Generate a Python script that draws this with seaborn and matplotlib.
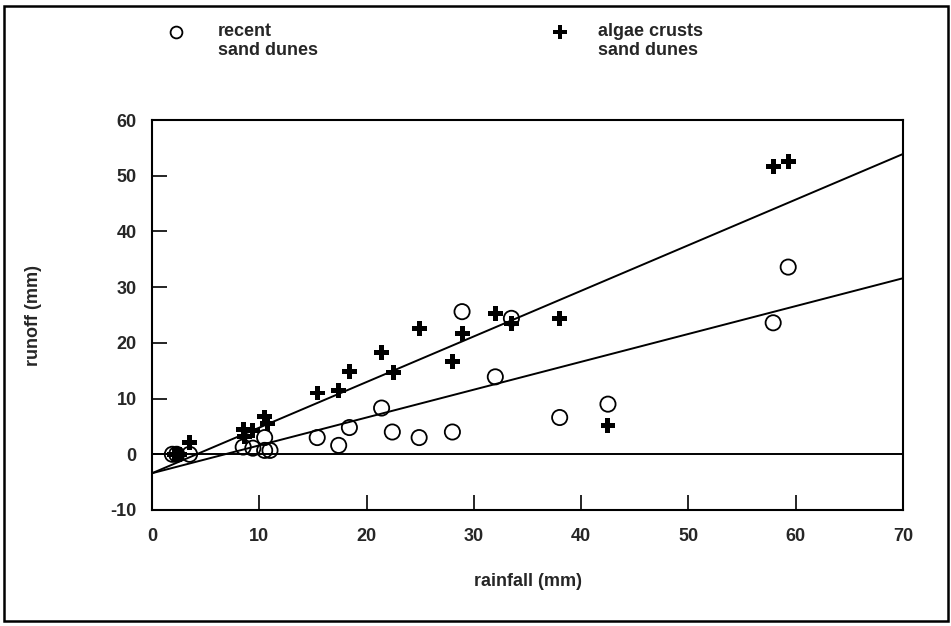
import matplotlib
matplotlib.use("Agg")
import matplotlib.pyplot as plt
from matplotlib.patches import Rectangle
from matplotlib.lines import Line2D
import seaborn as sns
import pandas as pd

# --- data ---------------------------------------------------------------
recent_x = [1.9, 2.3, 3.5, 8.5, 9.4, 10.5, 10.5, 11.0, 15.4, 17.4, 18.4, 21.4,
            22.4, 24.9, 28.0, 28.9, 32.0, 33.5, 38.0, 42.5, 57.9, 59.3]
recent_y = [0.0, 0.0, 0.0, 1.3, 1.1, 3.0, 0.7, 0.7, 3.0, 1.6, 4.8, 8.3,
            4.0, 3.0, 4.0, 25.6, 13.9, 24.4, 6.6, 9.0, 23.6, 33.6]

algae_x = [2.1, 2.6, 3.5, 8.5, 8.6, 9.4, 10.5, 10.8, 15.4, 17.4, 18.4, 21.4,
           22.5, 24.9, 28.0, 28.9, 32.0, 33.5, 38.0, 42.5, 57.9, 59.3]
algae_y = [0.0, 0.0, 2.1, 4.5, 3.2, 4.3, 6.7, 5.5, 11.0, 11.4, 14.8, 18.3,
           14.6, 22.5, 16.6, 21.6, 25.3, 23.5, 24.4, 5.1, 51.7, 52.5]

fit_x = [0, 70]
fit_algae = [-3.4, 53.9]
fit_recent = [-3.4, 31.6]

xticks = [0, 10, 20, 30, 40, 50, 60, 70]
yticks = [-10, 0, 10, 20, 30, 40, 50, 60]

legend_labels = ["recent\nsand dunes", "algae crusts\nsand dunes"]
xlabel = "rainfall (mm)"
ylabel = "runoff (mm)"

# --- style --------------------------------------------------------------
sns.set_theme(style="white")
plt.rcParams["font.family"] = ["Liberation Sans", "DejaVu Sans"]
plt.rcParams["font.weight"] = "bold"
FS = 13

W, H = 951, 626
fig = plt.figure(figsize=(W / 100, H / 100), dpi=100)
ax = fig.add_axes([152 / W, 1 - 510 / H, (903 - 152) / W, (510 - 120) / H])

df_r = pd.DataFrame({"x": recent_x, "y": recent_y})
df_a = pd.DataFrame({"x": algae_x, "y": algae_y})
df_fa = pd.DataFrame({"x": fit_x, "y": fit_algae})
df_fr = pd.DataFrame({"x": fit_x, "y": fit_recent})

sns.lineplot(data=df_fa, x="x", y="y", ax=ax, color="black", lw=1.4)
sns.lineplot(data=df_fr, x="x", y="y", ax=ax, color="black", lw=1.4)
ax.axhline(0, color="black", lw=1.4, zorder=1)

sns.scatterplot(data=df_r, x="x", y="y", ax=ax, marker="o", s=120,
                facecolor="none", edgecolor="black", linewidth=1.3, zorder=3)
sns.scatterplot(data=df_a, x="x", y="y", ax=ax, marker="P", s=115,
                color="black", edgecolor="none", linewidth=0, zorder=4)

ax.set_xlim(0, 70)
ax.set_ylim(-10, 60)
ax.set_xticks(xticks)
ax.set_yticks(yticks)
ax.set_xticklabels([str(t) for t in xticks], fontsize=FS, fontweight="bold")
ax.set_yticklabels([str(t) for t in yticks], fontsize=FS, fontweight="bold")
ax.tick_params(axis="both", direction="in", length=11, width=1.2, color="black",
               left=True, bottom=True, top=False, right=False)
ax.tick_params(axis="y", pad=11)
ax.tick_params(axis="x", pad=13)
for sp in ax.spines.values():
    sp.set_visible(True)
    sp.set_color("black")
    sp.set_linewidth(1.5)

ax.set_xlabel("")
ax.set_ylabel("")
fig.text(528 / W, 1 - 582 / H, xlabel, ha="center", va="center",
         fontsize=FS, fontweight="bold")
fig.text(33 / W, 1 - 315 / H, ylabel, ha="center", va="center",
         rotation=90, fontsize=FS, fontweight="bold")

# legend (manual, above the plot)
fig.add_artist(Line2D([176 / W], [1 - 32 / H], marker="o", markersize=8.5,
                      markerfacecolor="none", markeredgecolor="black",
                      markeredgewidth=1.3, linestyle="none",
                      transform=fig.transFigure))
fig.add_artist(Line2D([560 / W], [1 - 32 / H], marker="P", markersize=10.5,
                      color="black", markeredgewidth=0, linestyle="none",
                      transform=fig.transFigure))
fig.text(218 / W, 1 - 23 / H, legend_labels[0], ha="left", va="top",
         fontsize=FS, fontweight="bold", linespacing=1.15)
fig.text(598 / W, 1 - 23 / H, legend_labels[1], ha="left", va="top",
         fontsize=FS, fontweight="bold", linespacing=1.15)

# outer border around the figure
fig.add_artist(Rectangle((4 / W, 5 / H), (948 - 4) / W, (620 - 5) / H,
                         transform=fig.transFigure, fill=False,
                         edgecolor="black", linewidth=1.8))

fig.savefig("out.png", dpi=100, facecolor="white")
